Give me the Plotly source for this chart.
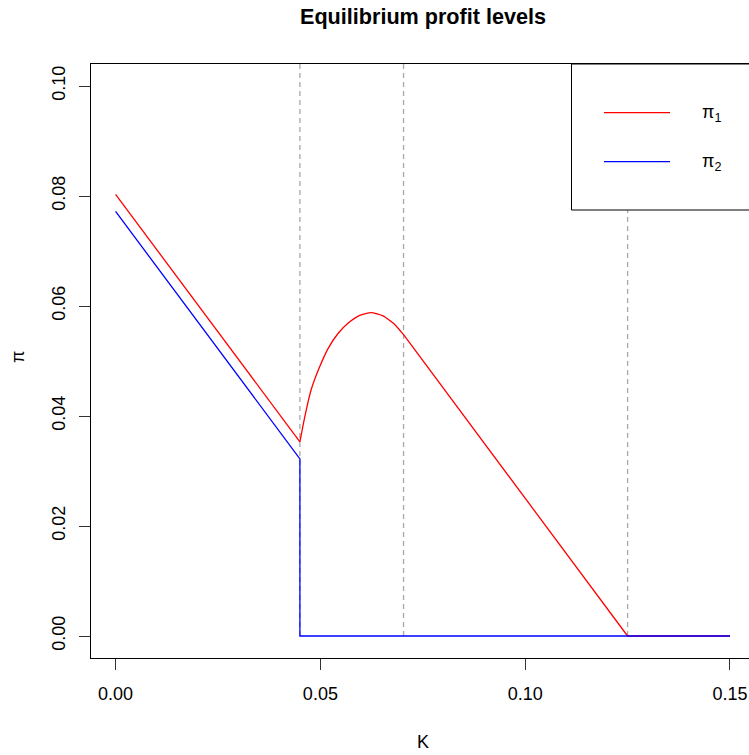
import plotly.graph_objects as go

# ---- data ----
k_pi1_a = [0.0, 0.045]
pi1_a = [0.0803, 0.0353]
k_pi1_curve = [0.045, 0.0462, 0.0478, 0.0498, 0.0519, 0.0543, 0.0568, 0.0596, 0.0624, 0.0653, 0.0682, 0.0704]
pi1_curve = [0.0353, 0.0399, 0.0449, 0.0489, 0.0523, 0.0550, 0.0569, 0.0583, 0.0588, 0.0582, 0.0566, 0.0547]
k_pi1_b = [0.0704, 0.125, 0.15]
pi1_b = [0.0547, 0.0, 0.0]

k_pi2 = [0.0, 0.045, 0.045, 0.15]
pi2 = [0.0772, 0.0322, 0.0, 0.0]

k_breaks = [0.045, 0.0703, 0.125]

x_ticks = [0.0, 0.05, 0.10, 0.15]
x_ticktext = ["0.00", "0.05", "0.10", "0.15"]
y_ticks = [0.0, 0.02, 0.04, 0.06, 0.08, 0.10]
y_ticktext = ["0.00", "0.02", "0.04", "0.06", "0.08", "0.10"]

title_text = "Equilibrium profit levels"
x_label = "K"
y_label = "π"
legend_labels = ["π<sub>1</sub>", "π<sub>2</sub>"]
RED = "#FF0000"
BLUE = "#0000FF"

FONT = "Liberation Sans, Arial, Helvetica, sans-serif"
W, H = 749, 755
L, T, B = 91, 64, 97
PW, PH = W - L, H - T - B


def px(xp):
    return (xp - L) / PW


def py(yp):
    return (H - B - yp) / PH


fig = go.Figure()
lw = 1.3
fig.add_trace(go.Scatter(x=k_pi1_a, y=pi1_a, mode="lines", line=dict(color=RED, width=lw), showlegend=False))
fig.add_trace(go.Scatter(x=k_pi1_curve, y=pi1_curve, mode="lines",
                         line=dict(color=RED, width=lw, shape="spline", smoothing=0.5), showlegend=False))
fig.add_trace(go.Scatter(x=k_pi1_b, y=pi1_b, mode="lines", line=dict(color=RED, width=lw), showlegend=False))
fig.add_trace(go.Scatter(x=k_pi2, y=pi2, mode="lines", line=dict(color=BLUE, width=lw), showlegend=False))

shapes = []
for kb in k_breaks:
    shapes.append(dict(type="line", xref="x", yref="y", x0=kb, x1=kb, y0=0, y1=0.104,
                       line=dict(color="#A8A8A8", width=1.3, dash="5px,4px"), layer="below"))

# legend box
shapes.append(dict(type="rect", xref="paper", yref="paper", x0=px(571.5), x1=1.03, y0=py(210), y1=1.0,
                   fillcolor="white", line=dict(color="black", width=1), layer="above"))
shapes.append(dict(type="line", xref="paper", yref="paper", x0=px(604), x1=px(670), y0=py(112.7), y1=py(112.7),
                   line=dict(color=RED, width=lw), layer="above"))
shapes.append(dict(type="line", xref="paper", yref="paper", x0=px(604), x1=px(670), y0=py(161.7), y1=py(161.7),
                   line=dict(color=BLUE, width=lw), layer="above"))

annotations = [
    dict(text="<b>%s</b>" % title_text, xref="paper", yref="paper", x=px(423), y=py(17),
         xanchor="center", yanchor="middle", showarrow=False, font=dict(family=FONT, size=21.6, color="black")),
    dict(text=x_label, xref="paper", yref="paper", x=px(423), y=py(742),
         xanchor="center", yanchor="middle", showarrow=False, font=dict(family=FONT, size=18, color="black")),
    dict(text=y_label, xref="paper", yref="paper", x=px(18), y=py(357), textangle=-90,
         xanchor="center", yanchor="middle", showarrow=False, font=dict(family=FONT, size=18, color="black")),
    dict(text=legend_labels[0], xref="paper", yref="paper", x=px(700), y=py(114),
         xanchor="left", yanchor="middle", showarrow=False, font=dict(family=FONT, size=18, color="black")),
    dict(text=legend_labels[1], xref="paper", yref="paper", x=px(700), y=py(163),
         xanchor="left", yanchor="middle", showarrow=False, font=dict(family=FONT, size=18, color="black")),
]

fig.update_layout(
    width=W, height=H,
    margin=dict(l=L, r=0, t=T, b=B, pad=0),
    paper_bgcolor="white", plot_bgcolor="white",
    shapes=shapes, annotations=annotations,
    showlegend=False,
    font=dict(family=FONT, size=18, color="black"),
)
fig.update_xaxes(range=[-0.006, 0.15464], tickvals=x_ticks, ticktext=x_ticktext,
                 showgrid=False, zeroline=False, showline=True, mirror=True, linecolor="black", linewidth=1,
                 ticks="outside", ticklen=11, tickcolor="#333", tickwidth=1, ticklabelstandoff=8,
                 tickfont=dict(family=FONT, size=18, color="black"))
fig.update_yaxes(range=[-0.004, 0.104], tickvals=y_ticks, ticktext=y_ticktext, tickangle=-90,
                 showgrid=False, zeroline=False, showline=True, mirror=False, linecolor="black", linewidth=1,
                 ticks="outside", ticklen=11, tickcolor="#333", tickwidth=1, ticklabelstandoff=7,
                 tickfont=dict(family=FONT, size=18, color="black"))

fig.write_html("out.html", config={"displayModeBar": False},
               post_script="document.body.style.margin='0';document.body.style.overflow='hidden';")
